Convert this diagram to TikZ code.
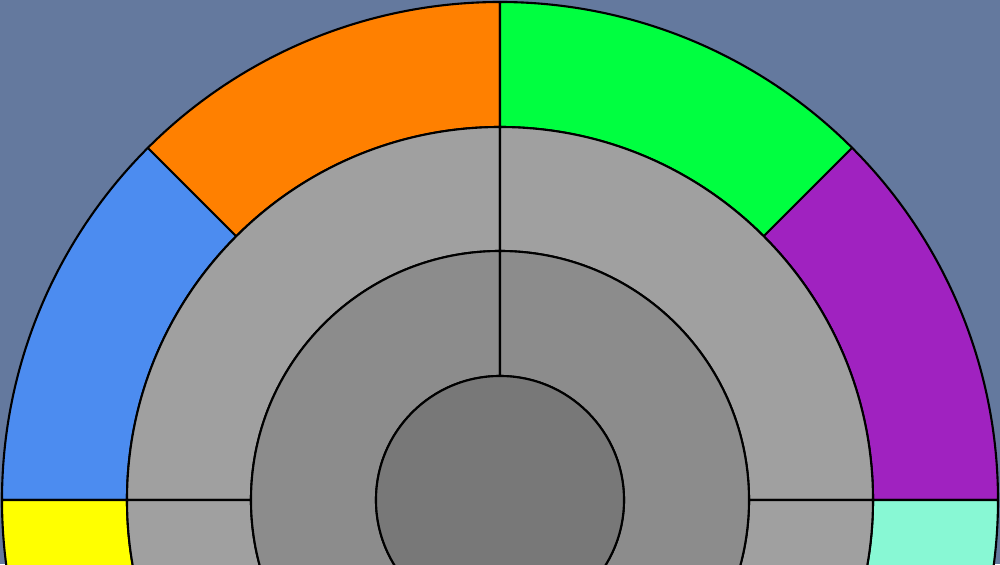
\documentclass[tikz,border=0pt]{standalone}
\usepackage{tikz}
\usetikzlibrary{calc}

\definecolor{bgblue}{RGB}{100,121,158}
\definecolor{segblue}{RGB}{76,140,240}
\definecolor{segorange}{RGB}{255,128,0}
\definecolor{seggreen}{RGB}{0,255,64}
\definecolor{segpurple}{RGB}{160,34,192}
\definecolor{segyellow}{RGB}{255,255,0}
\definecolor{segaqua}{RGB}{136,248,212}
\definecolor{ringouter}{RGB}{160,160,160}
\definecolor{ringmid}{RGB}{140,140,140}
\definecolor{ringcore}{RGB}{120,120,120}

% annular sector: start angle, end angle, inner radius, outer radius
\newcommand\ringpart[4]{%
  (#1:#4) arc[start angle=#1, end angle=#2, radius=#4] --
  (#2:#3) arc[start angle=#2, end angle=#1, radius=#3] -- cycle}

\begin{document}
\begin{tikzpicture}[
    seg/.style={draw=black, line width=1.2pt, line join=round}
]
\fill[bgblue] (-10,-1.28) rectangle (10,10);
\useasboundingbox (-10,-1.28) rectangle (10,10);
\clip (-10,-1.28) rectangle (10,10);

% outer ring
\foreach \a/\b/\c in {135/180/segblue, 90/135/segorange, 45/90/seggreen, 0/45/segpurple,
                      180/230/segyellow, -50/0/segaqua}
  \filldraw[seg, fill=\c] \ringpart{\a}{\b}{7.46}{9.96};

% third ring
\foreach \a/\b in {90/180, 0/90, 180/360}
  \filldraw[seg, fill=ringouter] \ringpart{\a}{\b}{4.98}{7.46};

% second ring
\foreach \a/\b in {90/270, -90/90}
  \filldraw[seg, fill=ringmid] \ringpart{\a}{\b}{2.48}{4.98};

% core
\filldraw[seg, fill=ringcore] (0,0) circle[radius=2.48];
\end{tikzpicture}
\end{document}
